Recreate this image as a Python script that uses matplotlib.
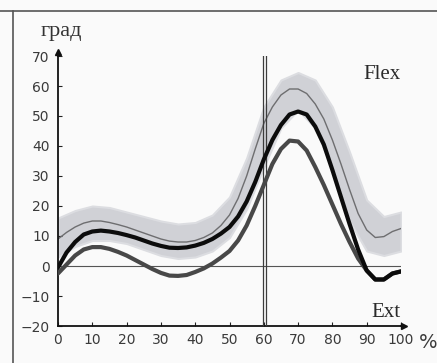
"""
Knee flexion-extension angle over the gait cycle
"""

import matplotlib
matplotlib.use('Agg')
import matplotlib.pyplot as plt
import numpy as np
from matplotlib.lines import Line2D

# Gait cycle (%), step 2.5
cycle = np.arange(0, 100.1, 2.5)

# Mean normal curve (thin gray line)
norm_mean = [9, 11.2, 13, 14.3, 15, 15, 14.5, 13.8, 13, 12, 11, 10, 9, 8.3, 8, 8,
             8.5, 9.5, 11, 13.5, 17, 22.5, 30, 39, 47.5, 53, 57, 59, 59, 57.5, 54,
             49, 42, 34, 25.5, 17.5, 12, 9.5, 9.8, 11.5, 12.5]

# Side 1 (thick black line)
side_1 = [-0.5, 4.5, 8, 10.5, 11.5, 11.8, 11.5, 11, 10.3, 9.5, 8.5, 7.5, 6.7, 6.1, 6,
          6.2, 6.8, 7.7, 9, 10.8, 13, 16.5, 21.5, 28, 35.5, 42, 47, 50.5, 51.5, 50.5,
          46.5, 40.5, 32, 23, 14, 5.5, -1.5, -4.5, -4.5, -2.5, -1.8]

# Side 2 (thick dark gray line)
side_2 = [-2.5, 0.5, 3.5, 5.5, 6.3, 6.3, 5.7, 4.7, 3.5, 2, 0.5, -1, -2.3, -3.2, -3.3,
          -3, -2, -0.8, 0.8, 2.8, 5, 8.5, 13.5, 20, 27, 34, 39, 41.8, 41.5, 38.5, 33,
          27, 20.5, 14, 8, 2.5, -1.5, -4.5, -4.5, -2.5, -1.8]

# Normal corridor (shaded band), step 5
band_cycle = np.arange(0, 100.1, 5)
band_hi = [16, 18.5, 20, 19.5, 18, 16.5, 15, 14, 14.5, 17, 23, 36, 53, 62, 64.5, 62,
           53, 38, 22, 16.5, 18]
band_lo = [3, 6.5, 8.5, 8.5, 7.5, 5.5, 3.5, 2.5, 3, 5, 9.5, 19, 33, 46, 52, 46, 32,
           15, 5, 3.5, 5]

x_ticks = [0, 10, 20, 30, 40, 50, 60, 70, 80, 90, 100]
y_ticks = [-20, -10, 0, 10, 20, 30, 40, 50, 60, 70]

# Figure setup
W, H = 437, 363
fig = plt.figure(figsize=(W / 100, H / 100), dpi=100)
fig.patch.set_facecolor('#fafafa')

ax = fig.add_axes([58 / W, 1 - 326 / H, 343 / W, 270 / H])
ax.set_facecolor('none')

# Corridor
ax.fill_between(band_cycle, band_lo, band_hi, color='#d0d1d6',
                linewidth=1.5, edgecolor='#dcdde1', zorder=1)
ax.plot(cycle, norm_mean, color='#6e6e70', linewidth=1.0, zorder=2)

# Zero line and 60 % marker
ax.plot([0, 100], [0, 0], color='#555555', linewidth=0.8, zorder=3)
for xv in (59.7, 60.5):
    ax.plot([xv, xv], [-20, 70], color='#3c3c3c', linewidth=0.9, zorder=3)

# Patient curves
ax.plot(cycle, side_2, color='#484848', linewidth=3.0, solid_capstyle='round',
        zorder=4)
ax.plot(cycle, side_1, color='#0c0c0c', linewidth=3.0, solid_capstyle='round',
        zorder=5)

ax.set_xlim(0, 100)
ax.set_ylim(-20, 70)
ax.set_xticks(x_ticks)
ax.set_yticks(y_ticks)
ax.tick_params(direction='in', length=3, width=0.8, color='#222222',
               labelsize=10, labelcolor='#3a3a3a')
ax.tick_params(axis='x', pad=5)
ax.tick_params(axis='y', pad=6)
for side in ('top', 'right'):
    ax.spines[side].set_visible(False)
for side in ('left', 'bottom'):
    ax.spines[side].set_linewidth(1.3)
    ax.spines[side].set_color('#111111')

# Axis arrows
ax.plot([0, 0], [70, 71.5], color='#111111', linewidth=1.3, clip_on=False)
ax.plot([0], [71.5], marker='^', markersize=4, color='#111111', clip_on=False)
ax.plot([100, 100.8], [-20, -20], color='#111111', linewidth=1.3, clip_on=False)
ax.plot([100.8], [-20], marker='>', markersize=4, color='#111111', clip_on=False)

# Labels
serif = 'Liberation Serif'
fig.text(61 / W, 1 - 36 / H, 'град', family=serif, fontsize=16,
         color='#333333', ha='center', va='baseline')
fig.text(401 / W, 1 - 79 / H, 'Flex', family=serif, fontsize=15,
         color='#2a2a2a', ha='right', va='baseline')
fig.text(401 / W, 1 - 317 / H, 'Ext', family=serif, fontsize=15,
         color='#2a2a2a', ha='right', va='baseline')
fig.text(428 / W, 1 - 343 / H, '%', fontsize=14, color='#3a3a3a',
         ha='center', va='center')

# Outer frame (top and left edges)
fig.add_artist(Line2D([0, 1], [1 - 11 / H, 1 - 11 / H], color='#555555',
                      linewidth=1.2, transform=fig.transFigure))
fig.add_artist(Line2D([13 / W, 13 / W], [0, 1 - 11 / H], color='#555555',
                      linewidth=1.2, transform=fig.transFigure))

plt.savefig('out.png', dpi=100, facecolor=fig.get_facecolor())
